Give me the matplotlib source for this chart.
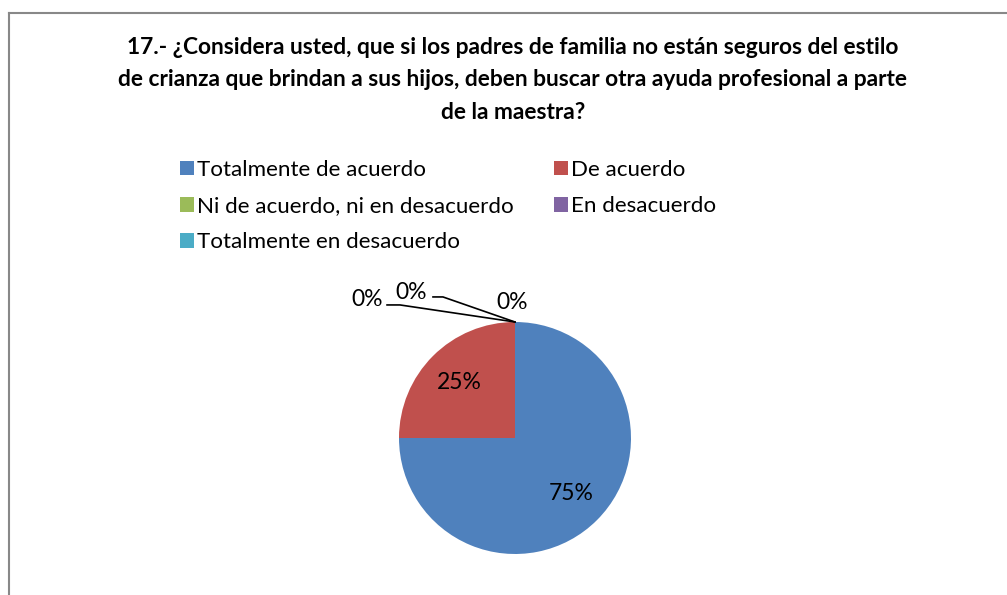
import matplotlib.pyplot as plt
from matplotlib.lines import Line2D
import numpy as np

# datos de la pregunta 17
categorias = ["Totalmente de acuerdo", "De acuerdo", "Ni de acuerdo, ni en desacuerdo",
              "En desacuerdo", "Totalmente en desacuerdo"]
porcentajes = [75, 25, 0, 0, 0]
colores = ["#4F81BD", "#C0504D", "#9BBB59", "#8064A2", "#4BACC6"]
titulo = ("17.- ¿Considera usted, que si los padres de familia no están seguros del estilo\n"
          "de crianza que brindan a sus hijos, deben buscar otra ayuda profesional a parte\n"
          "de la maestra?")

W, H = 1007, 595
plt.rcParams['font.family'] = ['Lato', 'DejaVu Sans']
fig = plt.figure(figsize=(W / 100, H / 100), dpi=100)

# marco del grafico
fig.add_artist(Line2D([9 / W, 9 / W], [0, 1 - 13 / H], color="#888888", lw=1.5))
fig.add_artist(Line2D([9 / W, 1006 / W], [1 - 13 / H, 1 - 13 / H], color="#888888", lw=1.5))

# ejes en pixeles: centro del pastel en (515, 438), radio 116 px
cx, cy, r = 515, 438, 116
aw, ah = 500, 330
ax = fig.add_axes([(cx - aw / 2) / W, (H - cy - ah / 2) / H, aw / W, ah / H])

def etiqueta(p):
    return f"{p:.0f}%" if p > 0.5 else ""

wedges, textos, autotextos = ax.pie(
    porcentajes, colors=colores, startangle=90, counterclock=False,
    autopct=etiqueta, pctdistance=0.68, radius=1,
    wedgeprops=dict(linewidth=0), textprops=dict(fontsize=16.5, color="black"))
ax.set_xlim(-aw / 2 / r, aw / 2 / r)
ax.set_ylim(-ah / 2 / r, ah / 2 / r)
ax.axis('off')

# etiquetas de 0% con lineas guia hacia la parte superior
pos_cero = [(-1.276, 1.19), (-0.897, 1.25), (-0.026, 1.17)]
codos = [(-1.103, 1.147, -0.991), (-0.707, 1.216, -0.621), None]
for (x, y), codo in zip(pos_cero, codos):
    ax.text(x, y, "0%", fontsize=16.5, ha='center', va='center')
    if codo:
        x0, yc, x1 = codo
        ax.plot([x0, x1, 0], [yc, yc, 1], color="black", lw=1.2, clip_on=False)

fig.text(513 / W, 1 - 80 / H, titulo, ha='center', va='center', fontsize=16.4,
         fontweight='bold', linespacing=1.65)

orden = [0, 2, 4, 1, 3]
leg = fig.legend([wedges[i] for i in orden], [categorias[i] for i in orden],
                 ncol=2, loc='upper left', bbox_to_anchor=(180 / W, 1 - 160 / H),
                 frameon=False, fontsize=16.1, handlelength=0.63, handleheight=0.63,
                 handletextpad=0.14, columnspacing=1.78, labelspacing=0.72,
                 borderpad=0, borderaxespad=0)

fig.savefig("out.png", dpi=100)
